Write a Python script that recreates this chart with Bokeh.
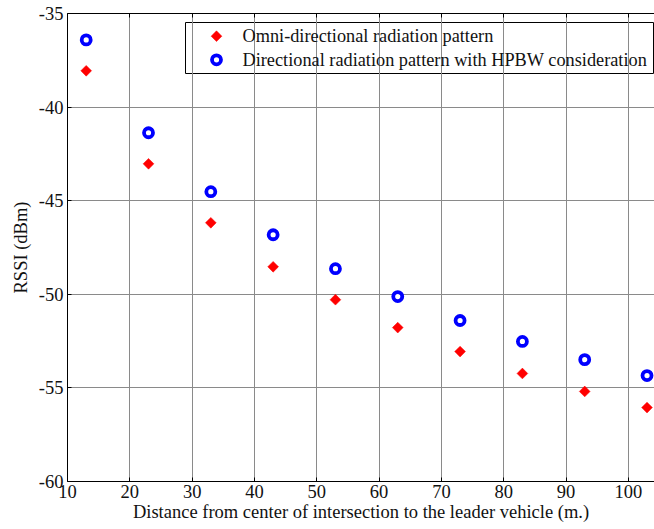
import math
from bokeh.plotting import figure
from bokeh.models import (LinearAxis, FixedTicker, Range1d, CustomJSTickFormatter,
                          ColumnDataSource, CustomLabelingPolicy)
from bokeh.core.properties import value
from bokeh.embed import file_html
from bokeh.resources import INLINE

# Distance from the intersection centre (m) and received signal strength (dBm)
distance_m = [13, 23, 33, 43, 53, 63, 73, 83, 93, 103]
rssi_omni = [-38.06, -43.03, -46.18, -48.53, -50.29, -51.78, -53.06, -54.23, -55.19, -56.05]
rssi_directional = [-36.41, -41.37, -44.52, -46.82, -48.63, -50.12, -51.40, -52.52, -53.49, -54.34]

series_labels = ["Omni-directional radiation pattern",
                 "Directional radiation pattern with HPBW consideration"]

x_ticks = [10, 20, 30, 40, 50, 60, 70, 80, 90, 100]
y_ticks = [-60, -55, -50, -45, -40, -35]

SERIF = "Liberation Serif"
TEXT = "#111111"

p = figure(width=654, height=529, output_backend="svg", toolbar_location=None,
           x_range=Range1d(10, 104.2), y_range=Range1d(-60, -35),
           min_border_left=67, min_border_right=0, min_border_top=13,
           min_border_bottom=48)
p.outline_line_color = None
p.background_fill_color = "white"
p.border_fill_color = "white"

# plain hyphen for negative tick values
plain = CustomJSTickFormatter(code="return tick.toString();")

for ax, ticks in ((p.xaxis[0], x_ticks), (p.yaxis[0], y_ticks)):
    ax.ticker = FixedTicker(ticks=ticks)
    ax.formatter = plain
    ax.axis_line_color = "black"
    ax.major_tick_line_color = "black"
    ax.major_tick_in = 4
    ax.major_tick_out = 0
    ax.minor_tick_line_color = None
    ax.major_label_text_font = SERIF
    ax.major_label_text_font_size = "18.5px"
    ax.major_label_text_color = TEXT
    ax.axis_label_text_font = SERIF
    ax.axis_label_text_font_size = "18.5px"
    ax.axis_label_text_font_style = "normal"
    ax.axis_label_text_color = TEXT

p.xaxis.axis_label = "Distance from center of intersection to the leader vehicle (m.)"
p.yaxis.axis_label = "RSSI (dBm)"
p.xaxis.major_label_standoff = 3
p.xaxis.axis_label_standoff = 1
p.yaxis.major_label_standoff = 4
p.yaxis.axis_label_standoff = 5

# Top border of the box: inward ticks only, every label filtered out
no_labels = CustomLabelingPolicy(code="""
for (const i of Array.from(indices)) { indices.unset(i) }
return indices
""")
top = LinearAxis(ticker=FixedTicker(ticks=x_ticks), formatter=plain,
                 major_label_policy=no_labels, major_label_text_font_size="10px",
                 major_tick_in=4, major_tick_out=0, minor_tick_line_color=None,
                 axis_line_color="black", major_tick_line_color="black",
                 major_label_standoff=0)
p.add_layout(top, "above")

p.xgrid.ticker = FixedTicker(ticks=x_ticks)
p.ygrid.ticker = FixedTicker(ticks=y_ticks)
p.grid.grid_line_color = "#8a8a8a"
p.grid.grid_line_width = 1

omni_style = dict(marker="square", size=7.6, angle=math.pi / 4,
                  fill_color="red", line_color="red", line_width=0.5)
dir_style = dict(marker="circle", size=9, fill_color="white",
                 line_color="blue", line_width=3.8)

p.scatter(distance_m, rssi_omni, **omni_style)
p.scatter(distance_m, rssi_directional, **dir_style)

# Legend box drawn in pixel space (canvas-like coordinates, y downwards)
p.extra_x_ranges = {"px": Range1d(67, 654)}
p.extra_y_ranges = {"px": Range1d(481, 13)}
px = dict(x_range_name="px", y_range_name="px")

box = p.quad(left=185, right=653, top=22, bottom=73, fill_color="white",
             line_color="black", line_width=1, **px)
box.level = "underlay"

row_y = [35.7, 59.3]
p.scatter([216], [row_y[0]], **omni_style, **px)
p.scatter([216], [row_y[1]], **dir_style, **px)
legend_src = ColumnDataSource(dict(x=[242, 242], y=row_y, text=series_labels))
p.text(x="x", y="y", text="text", source=legend_src, text_font=value(SERIF),
       text_font_size="18.3px", text_color=TEXT, text_baseline="middle",
       text_align="left", **px)

open("out.html", "w").write(file_html(p, INLINE))
